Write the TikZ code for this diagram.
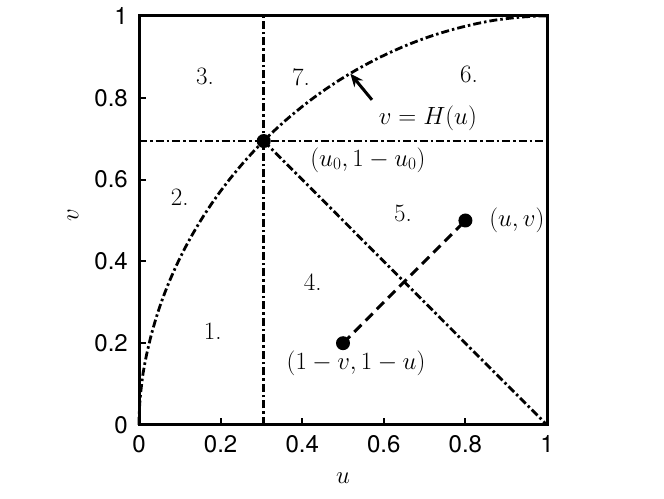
\documentclass[tikz,border=0pt]{standalone}
\usepackage{fontspec}
\newfontfamily\tickfont{TeX Gyre Heros}
\usetikzlibrary{arrows.meta}
\begin{document}
\begin{tikzpicture}[x=1pt,y=1pt,
  dashdot/.style={line width=2.8pt, dash pattern=on 8pt off 3pt on 2.5pt off 3pt},
  longdash/.style={line width=3pt, dash pattern=on 10pt off 6pt},
  lbl/.style={inner sep=0pt, font=\fontsize{25}{30}\selectfont},
  ticklbl/.style={inner sep=0pt, font=\tickfont\fontsize{24}{28}\selectfont},
  dotnode/.style={circle, fill=black, inner sep=0pt, minimum size=14pt},
  tickmark/.style={line width=2pt}]
\useasboundingbox (0,0) rectangle (664,498);
\begin{scope}[shift={(139,73)}, x=408pt, y=409pt]
  % corners and key coordinates
  \coordinate (O) at (0,0);
  \coordinate (R) at (1,0);
  \coordinate (T) at (1,1);
  \coordinate (L) at (0,1);
  \coordinate (vb) at (0.3057,0);
  \coordinate (vt) at (0.3057,1);
  \coordinate (hl) at (0,0.6943);
  \coordinate (hr) at (1,0.6943);
  \coordinate (arrS) at (0.571,0.795);
  \coordinate (arrE) at (0.518,0.859);
  % curve v = H(u)
  \draw[dashdot] plot[domain=0:90, samples=91, variable=\t]
     ({1-pow(max(cos(\t),0.0001),1.0526)}, {pow(max(sin(\t),0.0001),1.0526)});
  % lines
  \draw[dashdot] (vb) -- (vt);
  \draw[dashdot] (hl) -- (hr);
  \node[dotnode] (P0) at (0.3057,0.6943) {};
  \draw[dashdot] (P0.center) -- (R);
  \node[dotnode] (A) at (0.5,0.2) {};
  \node[dotnode] (B) at (0.8,0.5) {};
  \draw[longdash] (A.center) -- (B.center);
  % arrow
  \draw[line width=3pt, -{Stealth[length=13pt,width=11pt]}] (arrS) -- (arrE);
  % frame
  \draw[line width=3pt] (O) rectangle (T);
  % ticks
  \foreach \k in {0.2,0.4,0.6,0.8} {
    \draw[tickmark] (\k,0) -- ++(0,7pt);
    \draw[tickmark] (0,\k) -- ++(7pt,0);
  }
  \foreach \k/\s in {0/0,0.2/0.2,0.4/0.4,0.6/0.6,0.8/0.8,1/1} {
    \node[ticklbl, anchor=north] (xt\s) at ([yshift=-10pt]\k,0) {\s};
    \node[ticklbl, anchor=east] (yt\s) at ([xshift=-11pt]0,\k) {\s};
  }
  % axis labels
  \node[lbl] (ulab) at (0.5,-0.130) {$u$};
  \node[lbl, rotate=90] (vlab) at (-0.162,0.513) {$v$};
  % region numbers
  \node[lbl] (n3) at (0.162,0.851) {3.};
  \node[lbl] (n7) at (0.397,0.851) {7.};
  \node[lbl] (n6) at (0.809,0.856) {6.};
  \node[lbl] (n2) at (0.100,0.557) {2.};
  \node[lbl] (n5) at (0.647,0.518) {5.};
  \node[lbl] (n4) at (0.426,0.350) {4.};
  \node[lbl] (n1) at (0.181,0.230) {1.};
  % labels
  \node[lbl] (hlab) at (0.708,0.751) {$v=H(u)$};
  \node[lbl] (p0lab) at (0.561,0.648) {$(u_0,1-u_0)$};
  \node[lbl] (blab) at (0.926,0.501) {$(u,v)$};
  \node[lbl] (alab) at (0.532,0.152) {$(1-v,1-u)$};
\end{scope}
\end{tikzpicture}
\end{document}
